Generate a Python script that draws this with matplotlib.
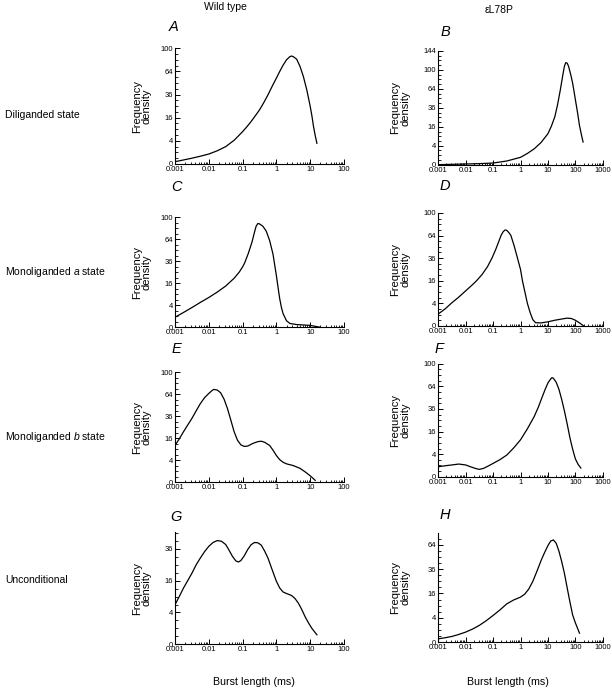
import numpy as np
import matplotlib
matplotlib.use('Agg')
import matplotlib.pyplot as plt
from matplotlib.ticker import FixedLocator, FuncFormatter, LogLocator, NullFormatter

plt.rcParams['font.family'] = ['Liberation Sans', 'DejaVu Sans']
plt.rcParams['mathtext.fontset'] = 'custom'
plt.rcParams['mathtext.it'] = 'Liberation Sans:italic'
plt.rcParams['mathtext.rm'] = 'Liberation Sans'

# curves: log10 of burst length (ms) and frequency density
a_logx = [-3, -2.75, -2.5, -2.25, -2, -1.75, -1.5, -1.25, -1, -0.875, -0.75, -0.625, -0.5, -0.375,
          -0.25, -0.125, 0, 0.1, 0.2, 0.3, 0.4, 0.45, 0.5, 0.6, 0.7, 0.8, 0.9, 1.0, 1.05, 1.1, 1.15, 1.2]
a_y = [0.04, 0.12, 0.25, 0.45, 0.74, 1.3, 2.25, 4.2, 7.8, 10.3, 13.4, 17.3, 21.8, 28,
       35.6, 45, 55, 64, 73, 81, 86, 87, 86, 82, 71, 57, 41, 25, 17.5, 10.4, 6, 3.2]

b_logx = [-3, -2, -1.5, -1, -0.5, 0, 0.25, 0.5, 0.75, 1.0, 1.125, 1.25, 1.35, 1.45, 1.55, 1.6,
          1.65, 1.7, 1.75, 1.8, 1.85, 1.9, 1.95, 2.0, 2.075, 2.15, 2.22, 2.28]
b_y = [0, 0.005, 0.012, 0.03, 0.15, 0.6, 1.4, 2.8, 5.5, 10.7, 16.5, 25.5, 40, 62, 92, 108,
       116, 115, 108, 97, 86, 74, 60, 47, 31, 17, 10, 5.7]

c_logx = [-3, -2.75, -2.5, -2.25, -2, -1.75, -1.5, -1.25, -1.1, -1.0, -0.94, -0.83, -0.72, -0.65,
          -0.6, -0.55, -0.5, -0.4, -0.3, -0.2, -0.1, 0, 0.05, 0.1, 0.15, 0.2, 0.3, 0.4, 0.6, 1.0, 1.3]
c_y = [0.83, 1.8, 3.2, 5.1, 7.3, 10.2, 14, 19.8, 25, 30, 34, 45, 60, 74,
       84, 88.5, 88, 84, 76, 62, 44, 22, 13, 6.6, 3.2, 1.5, 0.35, 0.12, 0.06, 0.03, 0]

d_logx = [-3, -2.75, -2.5, -2.25, -2, -1.75, -1.6, -1.4, -1.2, -1.04, -0.9, -0.8, -0.71, -0.64,
          -0.57, -0.5, -0.42, -0.35, -0.23, -0.11, 0, 0.07, 0.16, 0.25, 0.35, 0.45, 0.55, 0.75,
          1.0, 1.25, 1.5, 1.7, 1.85, 2.0, 2.15, 2.3]
d_y = [1.1, 2.25, 4.2, 6.5, 9.6, 13.3, 16, 20.7, 27.6, 36, 46, 55, 64, 69,
       72, 71.5, 68, 64, 50, 36, 25, 16, 9, 4, 1.4, 0.3, 0.08, 0.07,
       0.13, 0.25, 0.37, 0.47, 0.43, 0.25, 0.07, 0]

e_logx = [-3, -2.875, -2.75, -2.625, -2.5, -2.375, -2.25, -2.125, -2, -1.9, -1.85, -1.75, -1.65,
          -1.55, -1.45, -1.35, -1.25, -1.15, -1.05, -0.95, -0.85, -0.7, -0.55, -0.45, -0.35, -0.2,
          -0.1, 0, 0.1, 0.2, 0.3, 0.5, 0.7, 0.85, 1.0, 1.1, 1.15]
e_y = [11.2, 15.5, 21, 27, 33.6, 42, 51, 59, 65, 69.5, 71, 70, 66,
       57, 45, 32, 21, 14.5, 11.5, 10.6, 10.8, 12.4, 13.6, 13.9, 13.2, 11.2,
       8.5, 5.9, 4.2, 3.3, 2.8, 2.3, 1.6, 0.9, 0.35, 0.1, 0.03]

f_logx = [-3, -2.75, -2.5, -2.25, -2.0, -1.8, -1.6, -1.5, -1.35, -1.2, -1, -0.75, -0.5, -0.25, 0,
          0.25, 0.5, 0.65, 0.8, 0.9, 1.0, 1.1, 1.15, 1.2, 1.3, 1.4, 1.5, 1.6, 1.7, 1.8, 1.9, 2.0,
          2.1, 2.2]
f_y = [0.79, 0.95, 1.1, 1.27, 1.1, 0.75, 0.5, 0.43, 0.55, 0.85, 1.4, 2.3, 3.7, 6.5, 10.7,
       18, 28.5, 38, 50.7, 60, 69, 75, 77, 76, 70, 60, 47, 34, 22, 12, 6, 2.5,
       1.2, 0.6]

g_logx = [-3, -2.875, -2.75, -2.625, -2.5, -2.375, -2.25, -2.125, -2, -1.875, -1.75, -1.625, -1.5,
          -1.4, -1.3, -1.2, -1.12, -1.05, -0.95, -0.85, -0.75, -0.65, -0.55, -0.45, -0.35, -0.25,
          -0.125, 0, 0.1, 0.2, 0.3, 0.45, 0.55, 0.65, 0.75, 0.85, 0.95, 1.05, 1.2]
g_y = [6.2, 9, 12.5, 16, 20, 25, 29.5, 34, 38, 41, 42.6, 42, 39.4,
       35, 30.6, 27.5, 26.8, 27.8, 31, 35.5, 39.2, 41, 40.8, 39, 34.5, 29.5,
       22, 15.7, 12.5, 10.8, 10.2, 9.4, 8.3, 6.7, 4.8, 3.0, 1.8, 1.0, 0.35]

h_logx = [-3, -2.75, -2.5, -2.25, -2, -1.75, -1.5, -1.25, -1, -0.75, -0.5, -0.25, 0, 0.15, 0.3,
          0.45, 0.6, 0.75, 0.875, 1.0, 1.1, 1.2, 1.3, 1.4, 1.5, 1.6, 1.7, 1.8, 1.9, 2.0, 2.15]
h_y = [0.075, 0.13, 0.22, 0.4, 0.68, 1.15, 1.9, 3.1, 4.8, 7, 9.9, 12, 13.7, 15.5, 19,
       25, 34, 45, 54, 63, 69, 70.5, 66, 56, 44, 32, 20, 11, 5, 2.5, 0.55]

panel_letters = ['A', 'B', 'C', 'D', 'E', 'F', 'G', 'H']
panel_xmax = [100, 1000, 100, 1000, 100, 1000, 100, 1000]
panel_ymax = [100, 144, 100, 100, 100, 100, 50, 80]
panel_yticks = [[0, 4, 16, 36, 64, 100], [0, 4, 16, 36, 64, 100, 144],
                [0, 4, 16, 36, 64, 100], [0, 4, 16, 36, 64, 100],
                [0, 4, 16, 36, 64, 100], [0, 4, 16, 36, 64, 100],
                [0, 4, 16, 36], [0, 4, 16, 36, 64]]
row_labels = ['Diliganded state', r'Monoliganded $\mathit{a}$ state',
              r'Monoliganded $\mathit{b}$ state', 'Unconditional']
col_titles = ['Wild type', '\u03b5L78P']

logxs = [a_logx, b_logx, c_logx, d_logx, e_logx, f_logx, g_logx, h_logx]
ys = [a_y, b_y, c_y, d_y, e_y, f_y, g_y, h_y]

# axes boxes [left, bottom, width, height] in figure fractions
boxes = [[0.286, 0.762, 0.276, 0.168], [0.716, 0.761, 0.269, 0.165],
         [0.286, 0.525, 0.276, 0.160], [0.716, 0.527, 0.269, 0.164],
         [0.286, 0.300, 0.276, 0.160], [0.716, 0.308, 0.269, 0.164],
         [0.286, 0.065, 0.276, 0.163], [0.716, 0.068, 0.269, 0.158]]
letter_pos = [(0.283, 0.961), (0.727, 0.954), (0.288, 0.729), (0.727, 0.730),
              (0.288, 0.493), (0.717, 0.493), (0.288, 0.250), (0.727, 0.2525)]
row_y = [0.833, 0.605, 0.366, 0.158]


def fwd(y):
    return np.sqrt(np.clip(y, 0, None))


def inv(s):
    return np.square(s)


fig = plt.figure(figsize=(6.12, 6.89), dpi=100)

for i in range(8):
    ax = fig.add_axes(boxes[i])
    ax.plot(10.0 ** np.array(logxs[i]), ys[i], color='black', lw=0.9)
    ax.set_xscale('log')
    ax.set_yscale('function', functions=(fwd, inv))
    ax.set_xlim(0.001, panel_xmax[i])
    ax.set_ylim(0, panel_ymax[i])
    ax.spines['top'].set_visible(False)
    ax.spines['right'].set_visible(False)
    for s in ['left', 'bottom']:
        ax.spines[s].set_linewidth(0.8)
    ax.xaxis.set_major_locator(LogLocator(base=10, numticks=10))
    ax.xaxis.set_minor_locator(LogLocator(base=10, subs=np.arange(2, 10), numticks=20))
    ax.xaxis.set_major_formatter(FuncFormatter(lambda v, p: '%g' % v))
    ax.xaxis.set_minor_formatter(NullFormatter())
    ax.yaxis.set_major_locator(FixedLocator(panel_yticks[i]))
    top_s = np.sqrt(panel_ymax[i])
    ax.yaxis.set_minor_locator(FixedLocator([(k / 2) ** 2 for k in range(1, int(top_s * 2) + 1) if k % 4]))
    ax.yaxis.set_major_formatter(FuncFormatter(lambda v, p: '%d' % v))
    ax.tick_params(which='major', direction='in', length=3.5, width=0.7, labelsize=5.5, pad=1.5)
    ax.tick_params(which='minor', direction='in', length=1.8, width=0.6)
    ax.patch.set_visible(False)

    fig.text(letter_pos[i][0], letter_pos[i][1], panel_letters[i], fontsize=10.5,
             style='italic', ha='center', va='center')
    b = boxes[i]
    ylab_x = 0.232 if i % 2 == 0 else 0.654
    fig.text(ylab_x, b[1] + b[3] / 2, 'Frequency\ndensity', rotation=90, fontsize=8,
             ha='center', va='center', linespacing=1.0)

for r, lab in enumerate(row_labels):
    fig.text(0.008, row_y[r], lab, fontsize=7.5, ha='left', va='center')

fig.text(0.369, 0.99, col_titles[0], fontsize=7.5, ha='center', va='center')
fig.text(0.815, 0.985, col_titles[1], fontsize=7.5, ha='center', va='center')
fig.text(0.415, 0.010, 'Burst length (ms)', fontsize=7.7, ha='center', va='center')
fig.text(0.830, 0.010, 'Burst length (ms)', fontsize=7.7, ha='center', va='center')

fig.savefig('out.png', dpi=100)
